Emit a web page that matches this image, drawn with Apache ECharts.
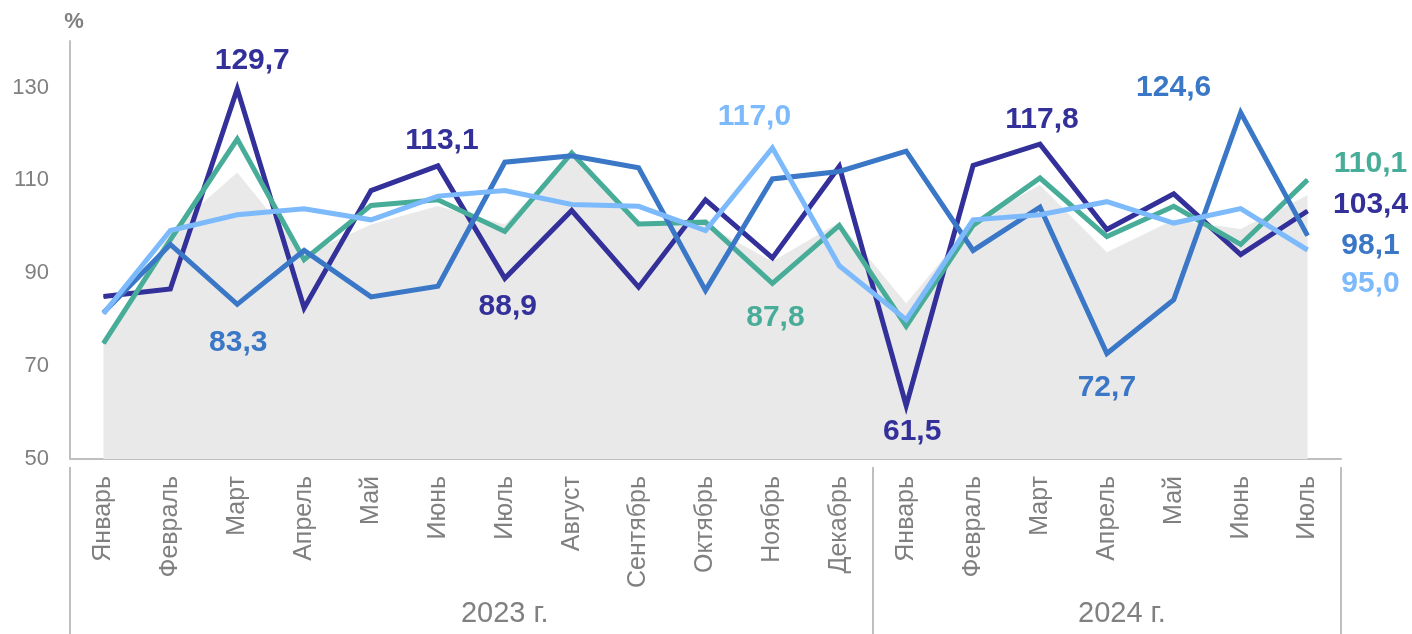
<!DOCTYPE html>
<html>
<head>
<meta charset="utf-8">
<script src="https://cdn.jsdelivr.net/npm/echarts@6/dist/echarts.min.js"></script>
<style>
  html, body { margin: 0; padding: 0; background: #ffffff; }
  #chart { width: 1412px; height: 634px; }
</style>
</head>
<body>
<div id="chart"></div>
<script>
// ---- data ----
const months = ['Январь','Февраль','Март','Апрель','Май','Июнь','Июль','Август','Сентябрь','Октябрь','Ноябрь','Декабрь',
                'Январь','Февраль','Март','Апрель','Май','Июнь','Июль'];
const yearLabels = ['2023 г.', '2024 г.'];
const yearLabelIndex = [6, 15];
const yearStartIndex = [0, 12];
const yTicks = [50, 70, 90, 110, 130];

const navy  = [85.0, 86.6, 129.7, 82.5, 107.8, 113.1, 88.9, 103.5, 87.0, 105.8, 93.3, 113.0, 61.5, 113.2, 117.8, 99.4, 107.1, 94.0, 103.4];
const green = [74.9, 97.2, 118.9, 92.9, 104.6, 105.8, 99.0, 115.9, 100.6, 101.0, 87.8, 100.3, 78.6, 100.3, 110.5, 97.9, 104.4, 96.2, 110.1];
const blue  = [81.5, 96.2, 83.3, 94.9, 84.9, 87.2, 113.9, 115.3, 112.7, 86.3, 110.3, 111.9, 116.3, 94.9, 104.2, 72.7, 84.3, 124.6, 98.1];
const light = [81.3, 99.2, 102.6, 103.9, 101.5, 106.6, 107.8, 104.8, 104.4, 99.2, 117.0, 91.6, 80.0, 101.5, 102.6, 105.4, 100.8, 103.9, 95.0];
const gray  = [75.0, 99.0, 111.7, 94.0, 100.5, 104.5, 100.5, 115.5, 100.5, 100.5, 92.5, 101.0, 83.5, 101.0, 109.0, 94.5, 101.5, 99.5, 106.8];

// ---- styling ----
const FONT = 'Arial, "Liberation Sans", sans-serif';
const C_NAVY = '#33309A', C_GREEN = '#48AD98', C_BLUE = '#3A77C6', C_LIGHT = '#7DBAFC', C_GRAY = '#E9E9E9';
const AXIS_C = '#BFBFBF', TEXT_C = '#808080';

// which points carry a value label, and where (offset of label centre from point)
const labelSpec = {
  navy:  {2: [15, -28], 5: [4, -25], 6: [3, 28], 12: [6, 26], 14: [2, -24], 18: [63, -6]},
  green: {10: [3, 34], 18: [63, -16]},
  blue:  {2: [1, 38], 15: [0, 34], 17: [-67, -25], 18: [63, 10]},
  light: {10: [-18, -31], 18: [63, 34]}
};

function buildData(values, spec, color) {
  return values.map((v, i) => {
    const off = spec[i];
    if (!off) return v;
    return {
      value: v,
      label: {
        show: true,
        position: 'inside',
        offset: off,
        color: color,
        fontFamily: FONT,
        fontWeight: 'bold',
        fontSize: 30,
        formatter: p => p.value.toFixed(1).replace('.', ',')
      }
    };
  });
}

function lineSeries(name, values, spec, color, z) {
  return {
    name: name,
    type: 'line',
    data: buildData(values, spec, color),
    symbol: 'circle',
    symbolSize: 1,
    showSymbol: true,
    itemStyle: { color: color },
    lineStyle: { color: color, width: 5, join: 'miter' },
    label: { show: false },
    z: z,
    silent: true,
    animation: false
  };
}

const chart = echarts.init(document.getElementById('chart'), null, { renderer: 'canvas' });

const option = {
  backgroundColor: '#ffffff',
  animation: false,
  grid: { left: 70, right: 71, top: 41, bottom: 175, containLabel: false },
  xAxis: [
    {
      type: 'category',
      data: months,
      boundaryGap: true,
      axisLine: { show: true, lineStyle: { color: AXIS_C, width: 2 } },
      axisTick: { show: false },
      axisLabel: {
        interval: 0,
        rotate: 90,
        margin: 17,
        color: TEXT_C,
        fontFamily: FONT,
        fontSize: 25
      },
      splitLine: { show: false }
    },
    {
      type: 'category',
      data: months,
      position: 'bottom',
      offset: 8,
      boundaryGap: true,
      axisLine: { show: false },
      axisTick: {
        show: true,
        length: 170,
        interval: (idx) => yearStartIndex.indexOf(idx) >= 0,
        lineStyle: { color: AXIS_C, width: 2 }
      },
      axisLabel: {
        interval: 0,
        margin: 132,
        color: TEXT_C,
        fontFamily: FONT,
        fontSize: 29,
        formatter: (val, idx) => {
          const k = yearLabelIndex.indexOf(idx);
          if (k < 0) return '';
          return k === 1 ? '{s|' + yearLabels[k] + '}' : yearLabels[k];
        },
        rich: {
          s: { color: TEXT_C, fontFamily: FONT, fontSize: 29, padding: [0, 0, 0, 30] }
        }
      },
      splitLine: { show: false }
    }
  ],
  yAxis: {
    type: 'value',
    min: 50,
    max: 140,
    interval: 20,
    name: '%',
    nameLocation: 'end',
    nameGap: 8,
    nameTextStyle: { color: TEXT_C, fontFamily: FONT, fontSize: 22, fontWeight: 'bold', padding: [0, 0, 0, 8] },
    axisLine: { show: true, lineStyle: { color: AXIS_C, width: 2 } },
    axisTick: { show: false },
    splitLine: { show: false },
    axisLabel: {
      showMaxLabel: false,
      margin: 21,
      color: TEXT_C,
      fontFamily: FONT,
      fontSize: 22,
      formatter: v => (yTicks.indexOf(v) >= 0 ? String(v) : '')
    }
  },
  series: [
    {
      name: 'area',
      type: 'line',
      data: gray,
      symbol: 'none',
      lineStyle: { width: 0, color: C_GRAY },
      areaStyle: { color: C_GRAY, opacity: 1 },
      z: 1,
      silent: true,
      animation: false
    },
    lineSeries('navy', navy, labelSpec.navy, C_NAVY, 2),
    lineSeries('green', green, labelSpec.green, C_GREEN, 3),
    lineSeries('blue', blue, labelSpec.blue, C_BLUE, 4),
    lineSeries('light', light, labelSpec.light, C_LIGHT, 5)
  ]
};

chart.setOption(option);
</script>
</body>
</html>
